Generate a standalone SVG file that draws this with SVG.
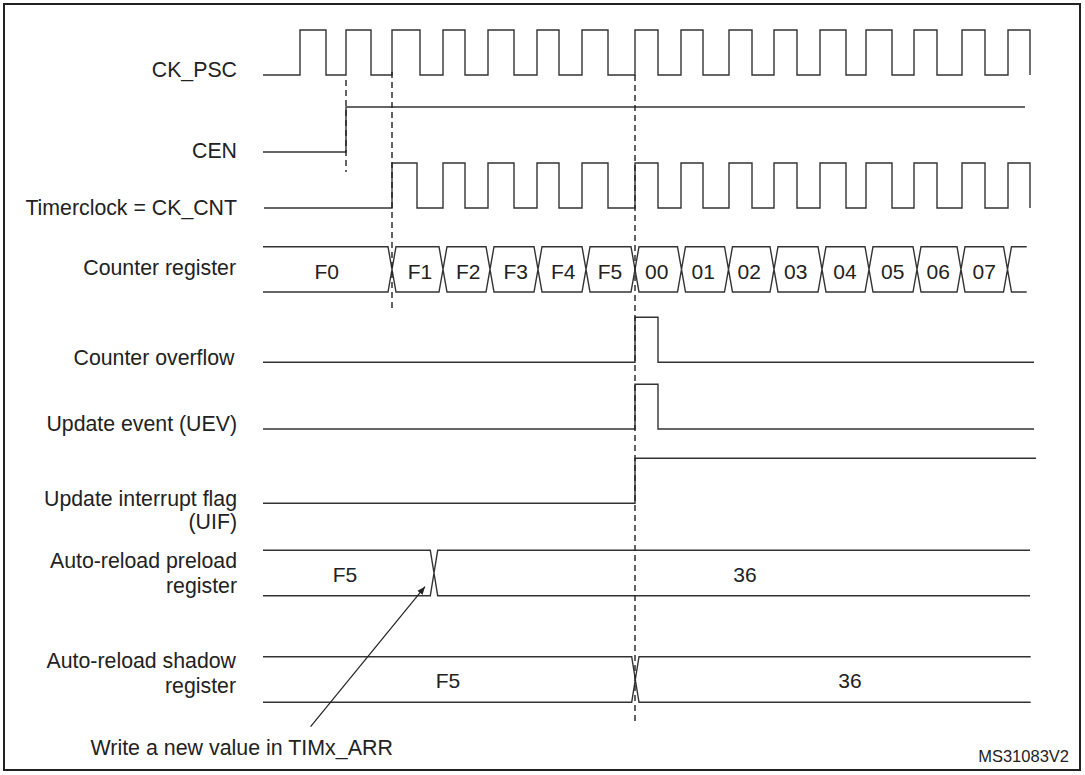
<svg xmlns="http://www.w3.org/2000/svg" width="1085" height="775" viewBox="0 0 1085 775">
<defs>
<style>
.sig{fill:none;stroke:#333;stroke-width:1.4;stroke-linejoin:miter}
.dash{fill:none;stroke:#222;stroke-width:1.4;stroke-dasharray:6 4}
.lbl{font-family:"Liberation Sans",Arial,sans-serif;font-size:21.3px;fill:#222;text-anchor:end}
.val{font-family:"Liberation Sans",Arial,sans-serif;font-size:21px;fill:#222;text-anchor:middle}
</style>
<marker id="arr" viewBox="0 0 10 10" refX="10" refY="5" markerWidth="8" markerHeight="8" markerUnits="userSpaceOnUse" orient="auto">
<path d="M0,1 L10,5 L0,9 z" fill="#222"/>
</marker>
</defs>
<rect x="0" y="0" width="1085" height="775" fill="#fff"/>
<rect x="4" y="4" width="1076" height="766" fill="none" stroke="#222" stroke-width="2"/>

<g id="ck_psc">
<text class="lbl" x="237" y="77">CK_PSC</text>
<path class="sig" d="M263,75 H300 V30 H326 V75 H346 V30 H371 V75 H392 V30 H420 V75 H443 V30 H465 V75 H488 V30 H514 V75 H537 V30 H559 V75 H582 V30 H608 V75 H635 V30 H658 V75 H681 V30 H703 V75 H729 V30 H752 V75 H774 V30 H797 V75 H820 V30 H846 V75 H866 V30 H892 V75 H914 V30 H937 V75 H962 V30 H985 V75 H1008 V30 H1030 V75"/>
</g>

<g id="cen">
<text class="lbl" x="237" y="158">CEN</text>
<path class="sig" d="M263,152 H346 V107 H1025"/>
</g>

<g id="ck_cnt">
<text class="lbl" x="237" y="215">Timerclock = CK_CNT</text>
<path class="sig" d="M264,208 H392 V163 H417 V208 H443 V163 H465 V208 H488 V163 H514 V208 H537 V163 H559 V208 H582 V163 H608 V208 H635 V163 H658 V208 H681 V163 H703 V208 H729 V163 H752 V208 H774 V163 H797 V208 H820 V163 H846 V208 H866 V163 H892 V208 H914 V163 H937 V208 H962 V163 H985 V208 H1008 V163 H1030 V208"/>
</g>

<g id="counter_register">
<text class="lbl" x="236" y="275">Counter register</text>
<path class="sig" d="M263,246.7 H388 L392,269.3 L396,246.7 H439 L443,269.3 L447,246.7 H486 L490,269.3 L494,246.7 H534 L538,269.3 L542,246.7 H582 L586,269.3 L590,246.7 H631 L635,269.3 L639,246.7 H677.5 L681.5,269.3 L685.5,246.7 H724.5 L728.5,269.3 L732.5,246.7 H770 L774,269.3 L778,246.7 H818 L822,269.3 L826,246.7 H865 L869,269.3 L873,246.7 H913 L917,269.3 L921,246.7 H957 L961,269.3 L965,246.7 H1003.5 L1007.5,269.3 L1011.5,246.7 H1026.7"/>
<path class="sig" d="M263,292 H388 L392,269.3 L396,292 H439 L443,269.3 L447,292 H486 L490,269.3 L494,292 H534 L538,269.3 L542,292 H582 L586,269.3 L590,292 H631 L635,269.3 L639,292 H677.5 L681.5,269.3 L685.5,292 H724.5 L728.5,269.3 L732.5,292 H770 L774,269.3 L778,292 H818 L822,269.3 L826,292 H865 L869,269.3 L873,292 H913 L917,269.3 L921,292 H957 L961,269.3 L965,292 H1003.5 L1007.5,269.3 L1011.5,292 H1026.7"/>
<text class="val" x="326.7" y="279">F0</text>
<text class="val" x="420" y="279">F1</text>
<text class="val" x="468.3" y="279">F2</text>
<text class="val" x="515.7" y="279">F3</text>
<text class="val" x="563.3" y="279">F4</text>
<text class="val" x="610" y="279">F5</text>
<text class="val" x="656.7" y="279">00</text>
<text class="val" x="703.3" y="279">01</text>
<text class="val" x="749.3" y="279">02</text>
<text class="val" x="795.7" y="279">03</text>
<text class="val" x="845" y="279">04</text>
<text class="val" x="892.7" y="279">05</text>
<text class="val" x="938.3" y="279">06</text>
<text class="val" x="984.3" y="279">07</text>
</g>

<g id="counter_overflow">
<text class="lbl" x="234.5" y="365">Counter overflow</text>
<path class="sig" d="M263,362.3 H635 V317.3 H658 V362.3 H1034"/>
</g>

<g id="uev">
<text class="lbl" x="237" y="431">Update event (UEV)</text>
<path class="sig" d="M263,429 H635 V384.3 H658 V429 H1034"/>
</g>

<g id="uif">
<text class="lbl" x="237" y="506">Update interrupt flag</text>
<text class="lbl" x="237" y="529">(UIF)</text>
<path class="sig" d="M263,503.3 H635 V458.3 H1036"/>
</g>

<g id="arr_preload">
<text class="lbl" x="237" y="568">Auto-reload preload</text>
<text class="lbl" x="237" y="593">register</text>
<path class="sig" d="M263,550.3 H430.3 L434,573 L437.7,550.3 H1030"/>
<path class="sig" d="M263,595.7 H430.3 L434,573 L437.7,595.7 H1030"/>
<text class="val" x="345" y="581.5">F5</text>
<text class="val" x="745" y="581.5">36</text>
</g>

<g id="arr_shadow">
<text class="lbl" x="236" y="668">Auto-reload shadow</text>
<text class="lbl" x="236" y="693">register</text>
<path class="sig" d="M263,656.7 H631.7 L635.3,679.5 L639,656.7 H1030.7"/>
<path class="sig" d="M263,702.3 H631.7 L635.3,679.5 L639,702.3 H1030.7"/>
<text class="val" x="448" y="688">F5</text>
<text class="val" x="850" y="687.5">36</text>
</g>

<g id="connectors">
<line class="dash" x1="346" y1="80" x2="346" y2="172"/>
<line class="dash" x1="392" y1="72" x2="392" y2="309"/>
<line class="dash" x1="635" y1="75" x2="635" y2="722"/>
<line x1="310.6" y1="726.7" x2="425" y2="586.7" stroke="#222" stroke-width="1.2" marker-end="url(#arr)"/>
</g>

<g id="note">
<text font-family="Liberation Sans, Arial, sans-serif" font-size="21.4" fill="#222" x="90.5" y="755">Write a new value in TIMx_ARR</text>
<text font-family="Liberation Sans, Arial, sans-serif" font-size="16.5" fill="#222" x="1069" y="762" text-anchor="end">MS31083V2</text>
</g>
</svg>
